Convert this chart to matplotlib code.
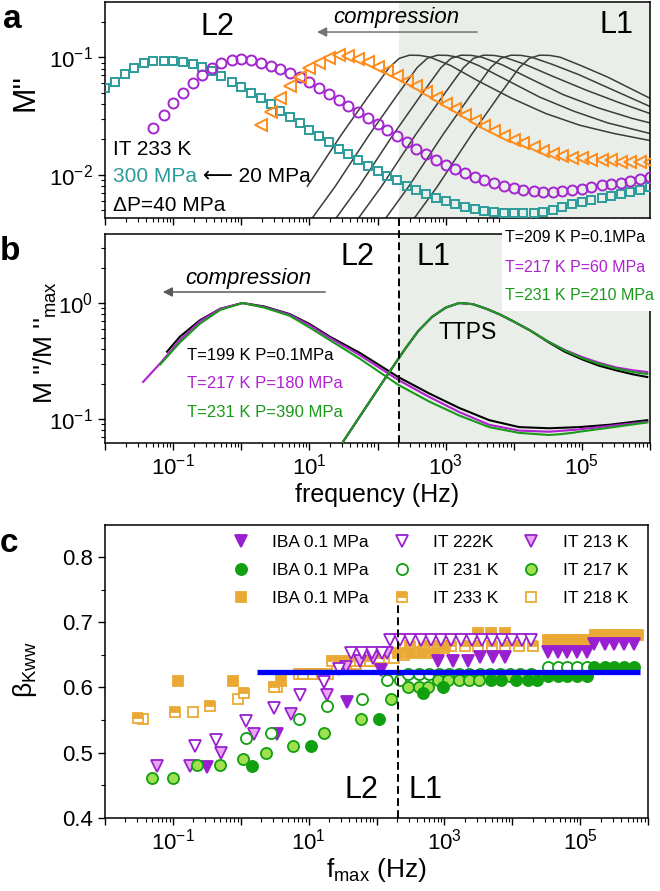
import numpy as np
import matplotlib
matplotlib.use("Agg")
import matplotlib.pyplot as plt
from matplotlib.ticker import LogLocator, FuncFormatter, NullFormatter, MultipleLocator
from matplotlib.patches import Rectangle
from matplotlib.lines import Line2D

plt.rcParams['font.family'] = ['Liberation Sans', 'DejaVu Sans']
plt.rcParams['mathtext.fontset'] = 'custom'
plt.rcParams['mathtext.rm'] = 'Liberation Sans'
plt.rcParams['mathtext.it'] = 'Liberation Sans:italic'
plt.rcParams['mathtext.bf'] = 'Liberation Sans:bold'

# ---------------- panel a : M'' spectra, IT 233 K ----------------
# log10 of measured frequency grid (7 points / decade)
grid_logf = [-2.00, -1.86, -1.71, -1.57, -1.43, -1.29, -1.14,
             -1.00, -0.86, -0.71, -0.57, -0.43, -0.29, -0.14,
             0.00, 0.14, 0.29, 0.43, 0.57, 0.71, 0.86,
             1.00, 1.14, 1.29, 1.43, 1.57, 1.71, 1.86,
             2.00, 2.14, 2.29, 2.43, 2.57, 2.71, 2.86,
             3.00, 3.14, 3.29, 3.43, 3.57, 3.71, 3.86,
             4.00, 4.14, 4.29, 4.43, 4.57, 4.71, 4.86,
             5.00, 5.14, 5.29, 5.43, 5.57, 5.71, 5.86,
             6.00]

# 300 MPa (teal squares), log10 M''
teal_logM = [-1.265, -1.214, -1.145, -1.094, -1.051, -1.034, -1.030,
             -1.030, -1.043, -1.060, -1.085, -1.120, -1.162, -1.214,
             -1.256, -1.308, -1.350, -1.400, -1.460, -1.510, -1.564,
             -1.624, -1.675, -1.726, -1.778, -1.829, -1.872, -1.923,
             -1.966, -2.009, -2.050, -2.094, -2.128, -2.162, -2.197,
             -2.222, -2.248, -2.274, -2.290, -2.308, -2.316, -2.325,
             -2.325, -2.325, -2.325, -2.316, -2.300, -2.274, -2.248,
             -2.230, -2.214, -2.197, -2.180, -2.162, -2.145, -2.128,
             -2.110]
# purple circles, starts at grid index 5
purple_logM = [-1.607, -1.496, -1.393, -1.308, -1.222, -1.154, -1.094, -1.051,
               -1.026, -1.017, -1.026, -1.051, -1.077, -1.103, -1.137, -1.171,
               -1.214, -1.265, -1.316, -1.368, -1.419, -1.470, -1.521, -1.573,
               -1.624, -1.675, -1.726, -1.778, -1.829, -1.872, -1.915, -1.949,
               -1.983, -2.017, -2.043, -2.068, -2.094, -2.111, -2.128, -2.137,
               -2.145, -2.145, -2.137, -2.128, -2.120, -2.103, -2.085, -2.077,
               -2.068, -2.051, -2.034, -2.017]
# orange triangles, starts at grid index 16
orange_logM = [-1.581, -1.470, -1.350, -1.248, -1.171, -1.094, -1.051, -1.009,
               -0.983, -0.991, -1.017, -1.043, -1.085, -1.120, -1.162, -1.205,
               -1.248, -1.299, -1.350, -1.402, -1.444, -1.496, -1.547, -1.590,
               -1.632, -1.675, -1.709, -1.735, -1.769, -1.795, -1.821, -1.838,
               -1.855, -1.863, -1.872, -1.880, -1.880, -1.889, -1.889, -1.889,
               -1.889]

# gray curves (20 MPa ... ), log10 f and log10 M''
gray_logf = [
    [0.97, 1.47, 1.87, 2.17, 2.32, 2.47, 2.62, 2.77, 3.07, 3.47, 3.97, 4.47, 4.97, 5.47, 6.0],
    [0.88, 1.38, 1.88, 2.28, 2.58, 2.73, 2.88, 3.03, 3.18, 3.48, 3.88, 4.38, 4.88, 5.38, 6.0],
    [1.23, 1.73, 2.23, 2.63, 2.93, 3.08, 3.23, 3.38, 3.53, 3.83, 4.23, 4.73, 5.23, 5.73, 6.0],
    [1.56, 2.06, 2.56, 2.96, 3.26, 3.41, 3.56, 3.71, 3.86, 4.16, 4.56, 5.06, 5.56, 6.0],
    [1.96, 2.46, 2.96, 3.36, 3.66, 3.81, 3.96, 4.11, 4.26, 4.56, 4.96, 5.46, 6.0],
    [2.38, 2.88, 3.38, 3.78, 4.08, 4.23, 4.38, 4.53, 4.68, 4.98, 5.38, 6.0],
]
gray_logM = [
    [-2.10, -1.66, -1.33, -1.09, -1.01, -0.983, -0.985, -1.00, -1.07, -1.20, -1.35, -1.48, -1.58, -1.65, -1.71],
    [-2.50, -2.10, -1.66, -1.33, -1.09, -1.01, -0.983, -0.985, -1.00, -1.07, -1.19, -1.34, -1.46, -1.56, -1.65],
    [-2.50, -2.10, -1.66, -1.33, -1.09, -1.01, -0.983, -0.985, -1.00, -1.065, -1.18, -1.32, -1.43, -1.52, -1.56],
    [-2.50, -2.10, -1.66, -1.33, -1.09, -1.01, -0.983, -0.985, -1.00, -1.06, -1.16, -1.28, -1.39, -1.48],
    [-2.50, -2.10, -1.66, -1.33, -1.09, -1.01, -0.983, -0.985, -1.00, -1.06, -1.15, -1.28, -1.42],
    [-2.50, -2.10, -1.66, -1.33, -1.09, -1.01, -0.983, -0.985, -1.00, -1.07, -1.17, -1.35],
]

# ---------------- panel b : normalised spectra ----------------
l2_black_logf = [-1.09, -0.90, -0.61, -0.31, 0.02, 0.34, 0.71, 1.00, 1.30, 1.74, 2.31, 2.76, 3.20, 3.64, 4.08, 4.52, 4.96, 5.40, 5.96]
l2_black_logM = [-0.42, -0.29, -0.15, -0.05, 0.0, -0.03, -0.095, -0.18, -0.29, -0.43, -0.64, -0.78, -0.905, -1.01, -1.07, -1.08, -1.07, -1.05, -1.01]
l2_purple_logf = [-1.44, -1.19, -0.90, -0.61, -0.31, 0.02, 0.34, 0.71, 1.00, 1.30, 1.74, 2.31, 2.76, 3.20, 3.64, 4.08, 4.52, 4.96, 5.40, 5.96]
l2_purple_logM = [-0.68, -0.52, -0.32, -0.16, -0.05, 0.0, -0.035, -0.10, -0.19, -0.30, -0.45, -0.665, -0.81, -0.94, -1.05, -1.10, -1.11, -1.09, -1.06, -1.025]
l2_green_logf = [-1.19, -0.90, -0.61, -0.31, 0.02, 0.34, 0.71, 1.00, 1.30, 1.74, 2.31, 2.76, 3.20, 3.64, 4.08, 4.52, 4.70, 4.85, 4.96, 5.40, 5.96]
l2_green_logM = [-0.53, -0.34, -0.18, -0.06, 0.0, -0.04, -0.11, -0.21, -0.32, -0.48, -0.707, -0.85, -0.97, -1.07, -1.12, -1.138, -1.13, -1.12, -1.11, -1.075, -1.03]

l1_logf = [1.49, 1.80, 2.10, 2.40, 2.60, 2.80, 3.00, 3.20, 3.40, 3.60, 3.80, 4.00, 4.25, 4.50, 4.75, 5.00, 5.25, 5.50, 5.75, 5.96]
l1_green_logM = [-1.20, -0.925, -0.66, -0.40, -0.24, -0.12, -0.04, 0.0, -0.01, -0.05, -0.10, -0.16, -0.24, -0.33, -0.41, -0.475, -0.525, -0.565, -0.595, -0.612]
l1_black_logM = [-1.20, -0.925, -0.66, -0.40, -0.24, -0.12, -0.04, 0.0, -0.01, -0.05, -0.10, -0.16, -0.24, -0.335, -0.42, -0.485, -0.54, -0.58, -0.615, -0.638]
l1_purple_logM = [-1.20, -0.925, -0.66, -0.40, -0.24, -0.12, -0.04, 0.0, -0.01, -0.05, -0.10, -0.16, -0.24, -0.33, -0.405, -0.465, -0.515, -0.555, -0.58, -0.595]

boundary_logf = 2.31

# ---------------- panel c : beta_KWW vs f_max ----------------
ibaP_logf = [-0.49, 0.54, 1.57, 2.06, 2.91, 3.13, 3.35, 3.52, 3.71, 3.89, 4.52, 4.67, 4.81, 4.96, 5.10, 5.21, 5.36, 5.50, 5.65, 5.80]
ibaP_beta = [0.478, 0.528, 0.578, 0.627, 0.640, 0.640, 0.640, 0.647, 0.647, 0.647, 0.655, 0.655, 0.655, 0.655, 0.655, 0.667, 0.667, 0.667, 0.667, 0.667]
it222_logf = [-0.68, -0.36, 0.08, 0.49, 0.88, 1.22, 1.45, 1.63, 1.78, 1.93, 2.08, 2.20, 2.35, 2.50, 2.65, 2.80, 2.95, 3.10, 3.25, 3.40, 3.55, 3.70, 3.85, 4.00, 4.15, 4.27]
it222_beta = [0.510, 0.520, 0.548, 0.569, 0.589, 0.608, 0.628, 0.653, 0.653, 0.653, 0.653, 0.673, 0.673, 0.673, 0.673, 0.673, 0.673, 0.673, 0.673, 0.673, 0.673, 0.673, 0.673, 0.673, 0.673, 0.673]
it213_logf = [-1.24, -0.75, -0.29, 0.20, 0.74, 1.27, 1.55, 1.75, 1.95, 2.15]
it213_beta = [0.479, 0.479, 0.500, 0.528, 0.559, 0.589, 0.632, 0.640, 0.645, 0.653]
ibaG_logf = [0.16, 1.04, 2.03, 2.69, 2.98, 3.69, 3.83, 4.05, 4.23, 4.37, 4.52, 4.67, 4.81, 4.96, 5.10, 5.21, 5.36, 5.50, 5.65, 5.80]
ibaG_beta = [0.480, 0.511, 0.551, 0.591, 0.600, 0.611, 0.611, 0.611, 0.611, 0.611, 0.618, 0.618, 0.618, 0.618, 0.618, 0.632, 0.632, 0.632, 0.632, 0.632]
it231_logf = [0.08, 0.45, 0.86, 1.27, 1.78, 2.15, 2.35, 2.47, 2.62, 2.77, 2.92, 3.07, 3.22, 3.37, 3.52, 3.67, 3.82, 3.97, 4.12, 4.27, 4.52, 4.67, 4.81, 4.96, 5.10]
it231_beta = [0.522, 0.531, 0.551, 0.571, 0.582, 0.611, 0.611, 0.620, 0.620, 0.620, 0.620, 0.620, 0.620, 0.620, 0.620, 0.620, 0.620, 0.620, 0.620, 0.620, 0.632, 0.632, 0.632, 0.632, 0.632]
it217_logf = [-1.31, -1.00, -0.65, -0.31, 0.04, 0.37, 0.77, 1.22, 1.77, 2.22, 2.47, 2.62, 2.76, 2.91, 3.06, 3.21, 3.36, 3.51, 3.66, 3.81, 3.96, 4.11]
it217_beta = [0.461, 0.461, 0.481, 0.481, 0.491, 0.500, 0.511, 0.531, 0.551, 0.582, 0.600, 0.600, 0.600, 0.611, 0.611, 0.611, 0.611, 0.611, 0.618, 0.618, 0.618, 0.618]
ibaO_logf = [-0.93, -0.12, 0.59, 2.32, 2.50, 2.67, 2.85, 3.01, 3.49, 3.69, 3.89,
             4.52, 4.59, 4.66, 4.73, 4.80, 4.87, 4.94, 5.01, 5.08, 5.15,
             5.22, 5.29, 5.36, 5.43, 5.50, 5.57, 5.64, 5.71, 5.78, 5.86]
ibaO_beta = [0.610, 0.610, 0.610, 0.653, 0.653, 0.653, 0.653, 0.663, 0.684, 0.684, 0.684,
             0.673, 0.673, 0.673, 0.673, 0.673, 0.673, 0.673, 0.673, 0.673, 0.673,
             0.681, 0.681, 0.681, 0.681, 0.681, 0.681, 0.681, 0.681, 0.681, 0.681]
it233_logf = [-1.51, -0.97, -0.46, 0.05, 0.49, 0.92, 1.06, 1.20, 1.34, 1.48, 1.62, 1.76, 1.90, 2.04, 2.50, 2.70, 2.90, 3.10, 3.30, 3.50, 3.70, 3.90, 4.10, 4.30]
it233_beta = [0.553, 0.562, 0.572, 0.592, 0.600, 0.620, 0.620, 0.620, 0.641, 0.641, 0.641, 0.641, 0.641, 0.645, 0.663, 0.663, 0.663, 0.663, 0.663, 0.663, 0.663, 0.663, 0.663, 0.663]
it218_logf = [-1.44, -0.71, -0.04, 0.54, 0.86, 1.00, 1.14, 1.28, 1.42, 1.56, 1.70, 1.84, 1.98, 2.12, 2.26, 2.40, 2.60, 2.80, 3.00]
it218_beta = [0.551, 0.562, 0.582, 0.600, 0.620, 0.620, 0.620, 0.620, 0.630, 0.636, 0.636, 0.640, 0.640, 0.645, 0.645, 0.650, 0.655, 0.660, 0.660]
blue_logf = [0.24, 5.88]
blue_beta = [0.624, 0.624]

# colours
TEAL = '#2b9c9a'
PURP_A = '#a324d0'
ORNG_A = '#ff8c1a'
GRAY = '#3c3c3c'
SHADE = '#e9eee8'
BLK_B = '#000000'
PURP_B = '#b020d0'
GRN_B = '#1a9a1a'
PURP = '#9a1fd0'
LPURP = '#e8a6f2'
GRN = '#10a010'
LGRN = '#a0e050'
ORNG = '#eaa935'

TICK_FS = 16
W, H = 660, 891


def P(logs):
    return 10 ** np.array(logs)


def style_log_x(ax, labels):
    ax.set_xscale('log')
    ax.set_xlim(1e-2, 1e6)
    ax.xaxis.set_major_locator(LogLocator(base=10, numticks=20))
    ax.xaxis.set_minor_locator(LogLocator(base=10, subs=np.arange(2, 10), numticks=20))
    ax.xaxis.set_minor_formatter(NullFormatter())
    if labels:
        def fmt(v, pos):
            e = int(round(np.log10(v)))
            return r'$10^{%d}$' % e if e % 2 != 0 else ''
        ax.xaxis.set_major_formatter(FuncFormatter(fmt))
    else:
        ax.xaxis.set_major_formatter(NullFormatter())


def style_common(ax):
    for s in ax.spines.values():
        s.set_linewidth(1.1)
    ax.tick_params(which='major', direction='out', length=5, width=1.0, labelsize=TICK_FS)
    ax.tick_params(which='minor', direction='out', length=2.8, width=0.8)
    ax.tick_params(axis='x', which='major', pad=2.5)


fig = plt.figure(figsize=(W / 100, H / 100), dpi=100)
ax_a = fig.add_axes([105 / W, 1 - 218 / H, 545 / W, 216 / H])
ax_b = fig.add_axes([105 / W, 1 - 443 / H, 545 / W, 209 / H])
ax_c = fig.add_axes([105 / W, 1 - 818 / H, 543 / W, 293 / H])

# ---------- a ----------
ax = ax_a
ax.axvspan(10 ** boundary_logf, 1e6, color=SHADE, zorder=0, lw=0)
for lf, lm in zip(gray_logf, gray_logM):
    ax.plot(P(lf), P(lm), color=GRAY, lw=1.1, zorder=2)
ax.plot(P(grid_logf), P(teal_logM), ls='none', marker='s', ms=6.3, mfc='none', mec=TEAL, mew=1.4, zorder=3)
ax.plot(P(grid_logf[5:]), P(purple_logM), ls='none', marker='o', ms=7.2, mfc='none', mec=PURP_A, mew=1.4, zorder=3)
ax.plot(P(grid_logf[16:]), P(orange_logM), ls='none', marker='<', ms=8, mfc='none', mec=ORNG_A, mew=1.4, zorder=3)
ax.set_yscale('log')
ax.set_ylim(10 ** -2.37, 10 ** -0.53)
style_log_x(ax, False)
style_common(ax)
ax.set_ylabel("M''", fontsize=22)
ax.yaxis.set_label_coords(-0.118, 0.58)
ax.text(0.207, 0.885, 'L2', transform=ax.transAxes, fontsize=22, ha='center', va='center')
ax.text(0.939, 0.895, 'L1', transform=ax.transAxes, fontsize=22, ha='center', va='center')
ax.text(0.418, 0.926, 'compression', transform=ax.transAxes, fontsize=16, style='italic', ha='left', va='center')
ax.annotate('', xy=(0.389, 0.861), xytext=(0.683, 0.861), xycoords='axes fraction',
            arrowprops=dict(arrowstyle='-|>', color='0.45', lw=1.1, mutation_scale=14, shrinkA=0, shrinkB=0))
ax.text(0.0147, 0.315, 'IT 233 K', transform=ax.transAxes, fontsize=15, ha='left', va='center')
ax.text(0.0147, 0.194, '300 MPa', transform=ax.transAxes, fontsize=15, ha='left', va='center', color=TEAL)
ax.text(0.180, 0.194, '\u27f5 20 MPa', transform=ax.transAxes, fontsize=15, ha='left', va='center')
ax.text(0.0147, 0.058, '\u0394P=40 MPa', transform=ax.transAxes, fontsize=15, ha='left', va='center')

# ---------- b ----------
ax = ax_b
ax.axvspan(10 ** boundary_logf, 1e6, color=SHADE, zorder=0, lw=0)
ax.plot(P(l2_black_logf), P(l2_black_logM), color=BLK_B, lw=1.5, zorder=3)
ax.plot(P(l2_purple_logf), P(l2_purple_logM), color=PURP_B, lw=1.5, zorder=3)
ax.plot(P(l2_green_logf), P(l2_green_logM), color=GRN_B, lw=1.5, zorder=3)
ax.plot(P(l1_logf), P(l1_black_logM), color=BLK_B, lw=1.5, zorder=3)
ax.plot(P(l1_logf), P(l1_purple_logM), color=PURP_B, lw=1.5, zorder=3)
ax.plot(P(l1_logf), P(l1_green_logM), color=GRN_B, lw=1.5, zorder=3)
ax.axvline(10 ** boundary_logf, ymin=0, ymax=1.077, clip_on=False, color='k', lw=1.4, dashes=(4, 2.2), zorder=4)
ax.set_yscale('log')
ax.set_ylim(10 ** -1.207, 10 ** 0.595)
style_log_x(ax, True)
style_common(ax)
ax.set_ylabel(r"M ''/M ''$_{\mathrm{max}}$", fontsize=19)
ax.yaxis.set_label_coords(-0.085, 0.483)
ax.set_xlabel('frequency (Hz)', fontsize=18)
ax.xaxis.set_label_coords(0.5, -0.19)
ax.text(0.464, 0.89, 'L2', transform=ax.transAxes, fontsize=22, ha='center', va='center')
ax.text(0.602, 0.89, 'L1', transform=ax.transAxes, fontsize=22, ha='center', va='center')
ax.text(0.147, 0.789, 'compression', transform=ax.transAxes, fontsize=16, style='italic', ha='left', va='center')
ax.annotate('', xy=(0.106, 0.7225), xytext=(0.404, 0.7225), xycoords='axes fraction',
            arrowprops=dict(arrowstyle='-|>', color='0.35', lw=1.1, mutation_scale=14, shrinkA=0, shrinkB=0))
ax.text(0.666, 0.531, 'TTPS', transform=ax.transAxes, fontsize=16.5, ha='center', va='center')
ax.text(0.150, 0.421, 'T=199 K P=0.1MPa', transform=ax.transAxes, fontsize=12, ha='left', va='center', color=BLK_B)
ax.text(0.150, 0.287, 'T=217 K P=180 MPa', transform=ax.transAxes, fontsize=12, ha='left', va='center', color=PURP_B)
ax.text(0.150, 0.144, 'T=231 K P=390 MPa', transform=ax.transAxes, fontsize=12, ha='left', va='center', color=GRN_B)

# white box with the TTPS labels, overlapping the frame
fig.add_artist(Rectangle((502 / W, 1 - 311 / H), 1 - 502 / W, 92 / H, transform=fig.transFigure,
                         facecolor='white', edgecolor='none', zorder=5))
fig.text(505 / W, 1 - 237 / H, 'T=209 K P=0.1MPa', fontsize=11.5, color=BLK_B, va='center', zorder=6)
fig.text(505 / W, 1 - 267 / H, 'T=217 K P=60 MPa', fontsize=11.5, color=PURP_B, va='center', zorder=6)
fig.text(505 / W, 1 - 295 / H, 'T=231 K P=210 MPa', fontsize=11.5, color=GRN_B, va='center', zorder=6)

# ---------- c ----------
ax = ax_c
MS_T, MS_C, MS_S, MEW = 8.5, 8.0, 7.5, 1.3
ax.plot(P(it218_logf), it218_beta, ls='none', marker='s', ms=MS_S, mfc='white', mec=ORNG, mew=MEW, zorder=3, label='IT 218 K')
ax.plot(P(it233_logf), it233_beta, ls='none', marker='s', ms=MS_S, mfc=ORNG, mfcalt='white', fillstyle='top', mec=ORNG, mew=MEW, zorder=3, label='IT 233 K')
ax.plot(P(ibaO_logf), ibaO_beta, ls='none', marker='s', ms=MS_S, mfc=ORNG, mec=ORNG, mew=MEW, zorder=3, label='IBA 0.1 MPa')
ax.plot(P(it213_logf), it213_beta, ls='none', marker='v', ms=MS_T, mfc=LPURP, mec=PURP, mew=MEW, zorder=3, label='IT 213 K')
ax.plot(P(it222_logf), it222_beta, ls='none', marker='v', ms=MS_T, mfc='white', mec=PURP, mew=MEW, zorder=3, label='IT 222K')
ax.plot(P(ibaP_logf), ibaP_beta, ls='none', marker='v', ms=MS_T, mfc=PURP, mec=PURP, mew=MEW, zorder=3, label='IBA 0.1 MPa')
ax.plot(P(it231_logf), it231_beta, ls='none', marker='o', ms=MS_C, mfc='white', mec=GRN, mew=MEW, zorder=3, label='IT 231 K')
ax.plot(P(it217_logf), it217_beta, ls='none', marker='o', ms=MS_C, mfc=LGRN, mec=GRN, mew=MEW, zorder=3, label='IT 217 K')
ax.plot(P(ibaG_logf), ibaG_beta, ls='none', marker='o', ms=MS_C, mfc=GRN, mec=GRN, mew=MEW, zorder=3, label='IBA 0.1 MPa')
ax.plot(P(blue_logf), blue_beta, color='#0000ff', lw=3.8, solid_capstyle='butt', zorder=5)
ax.axvline(10 ** boundary_logf, ymin=0, ymax=0.737, color='k', lw=1.4, dashes=(4, 2.2), zorder=6)
ax.set_ylim(0.4, 0.849)
ax.yaxis.set_major_locator(MultipleLocator(0.1))
ax.yaxis.set_minor_locator(MultipleLocator(0.05))
ax.yaxis.set_major_formatter(FuncFormatter(lambda v, p: '%.1f' % v))
style_log_x(ax, True)
style_common(ax)
ax.set_ylabel('\u03b2$_{\\mathrm{Kww}}$', fontsize=19)
ax.yaxis.set_label_coords(-0.122, 0.505)
ax.set_xlabel('f$_{\\mathrm{max}}$ (Hz)', fontsize=19)
ax.xaxis.set_label_coords(0.5, -0.128)
ax.text(0.4716, 0.096, 'L2', transform=ax.transAxes, fontsize=22, ha='center', va='center')
ax.text(0.591, 0.096, 'L1', transform=ax.transAxes, fontsize=22, ha='center', va='center')


def h(marker, mfc, mec, ms, **kw):
    return Line2D([], [], ls='none', marker=marker, ms=ms, mfc=mfc, mec=mec, mew=MEW, **kw)


handles = [h('v', PURP, PURP, MS_T), h('o', GRN, GRN, MS_C), h('s', ORNG, ORNG, MS_S),
           h('v', 'white', PURP, MS_T), h('o', 'white', GRN, MS_C),
           h('s', ORNG, ORNG, MS_S, fillstyle='top', mfcalt='white'),
           h('v', LPURP, PURP, MS_T), h('o', LGRN, GRN, MS_C), h('s', 'white', ORNG, MS_S)]
labels = ['IBA 0.1 MPa', 'IBA 0.1 MPa', 'IBA 0.1 MPa', 'IT 222K', 'IT 231 K', 'IT 233 K',
          'IT 213 K', 'IT 217 K', 'IT 218 K']
leg = ax.legend(handles, labels, ncol=3, loc='upper left', bbox_to_anchor=(0.2057, 0.989),
                frameon=False, fontsize=12.5, handlelength=2.0, handletextpad=0.8,
                columnspacing=0.9, labelspacing=0.72, borderaxespad=0, borderpad=0.4)
leg.set_zorder(7)

# panel letters
fig.text(3 / W, 1 - 28 / H, 'a', fontsize=24, fontweight='bold', va='baseline')
fig.text(0 / W, 1 - 260 / H, 'b', fontsize=24, fontweight='bold', va='baseline')
fig.text(0 / W, 1 - 552 / H, 'c', fontsize=24, fontweight='bold', va='baseline')

fig.savefig('out.png', dpi=100)
